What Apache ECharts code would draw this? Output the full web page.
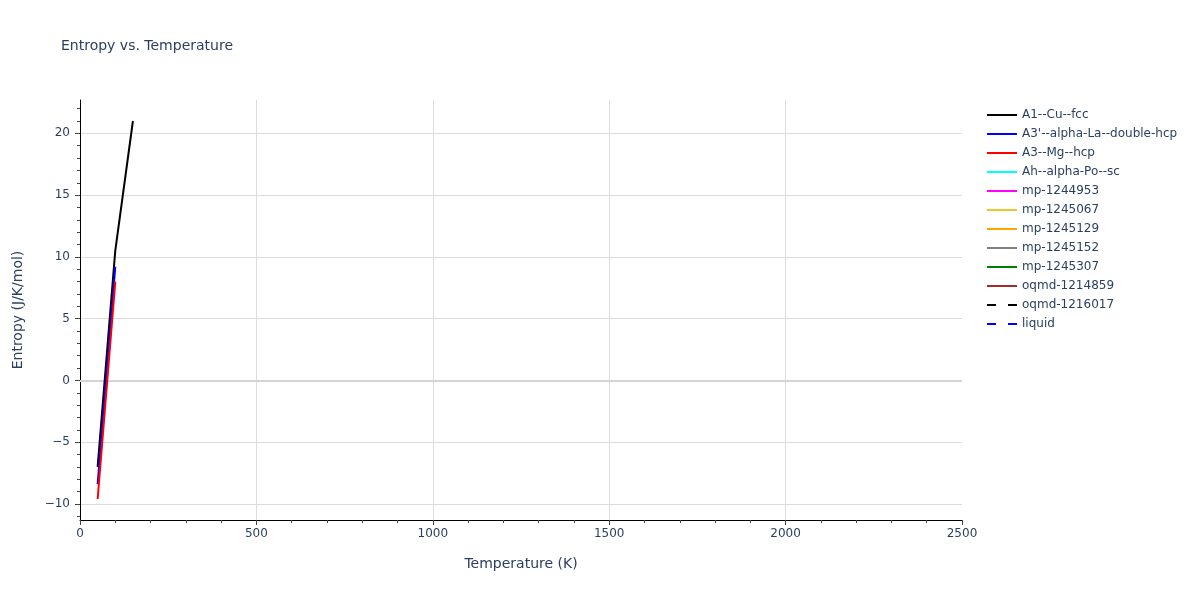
<!DOCTYPE html>
<html>
<head>
<meta charset="utf-8">
<script src="https://cdn.jsdelivr.net/npm/echarts@6/dist/echarts.min.js"></script>
<style>
html,body{margin:0;padding:0;background:#fff;}
#chart{width:1200px;height:600px;}
</style>
</head>
<body>
<div id="chart"></div>
<script>
// ---- data ----
const seriesNames = ["A1--Cu--fcc","A3'--alpha-La--double-hcp","A3--Mg--hcp","Ah--alpha-Po--sc",
  "mp-1244953","mp-1245067","mp-1245129","mp-1245152","mp-1245307","oqmd-1214859","oqmd-1216017","liquid"];
const seriesColors = ["#000000","#0000ff","#ff0000","#00ffff","#ff00ff","#f2c12e","#ffa500","#808080","#008000","#a52a2a","#000000","#0000ff"];
const seriesDashed = [false,false,false,false,false,false,false,false,false,false,true,true];
const tempA1 = [50, 100, 150];
const entropyA1 = [-7.0, 10.5, 21.0];
const tempA3p = [50, 100];
const entropyA3p = [-8.4, 9.2];
const tempA3 = [50, 100];
const entropyA3 = [-9.6, 8.0];
const xTicks = [0, 2500, 500];      // min, max, step
const yRange = [-11.3, 22.7];
const yMajor = [-10, 20, 5];
const yMinor = [-11, 22, 1];

const seriesData = {
  "A1--Cu--fcc": tempA1.map((t, i) => [t, entropyA1[i]]),
  "A3'--alpha-La--double-hcp": tempA3p.map((t, i) => [t, entropyA3p[i]]),
  "A3--Mg--hcp": tempA3.map((t, i) => [t, entropyA3[i]])
};

// ---- layout ----
const G = {left: 80, right: 238, top: 100, bottom: 80};
const plotH = 600 - G.top - G.bottom;
function py(v) { return G.top + (yRange[1] - v) / (yRange[1] - yRange[0]) * plotH; }

const font = '"DejaVu Sans", Verdana, sans-serif';
const txt = '#2a3f5f';
const fmt = v => (v < 0 ? '\u2212' + Math.abs(v) : String(v));
const dashPattern = [9, 12];

const chart = echarts.init(document.getElementById('chart'), null, {renderer: 'canvas'});

const series = seriesNames.map((name, i) => {
  const s = {
    name: name,
    type: 'line',
    xAxisIndex: 0, yAxisIndex: 0,
    data: seriesData[name] || [],
    symbol: 'none',
    showSymbol: false,
    smooth: false,
    animation: false,
    lineStyle: {color: seriesColors[i], width: 2, type: seriesDashed[i] ? dashPattern : 'solid'},
    itemStyle: {color: seriesColors[i]}
  };
  if (i === 0) {
    s.markLine = {
      silent: true, symbol: 'none', z: 1, animation: false,
      label: {show: false},
      lineStyle: {color: '#d4d4d4', width: 2, type: 'solid'},
      data: [{yAxis: 0}]
    };
  }
  return s;
});

const legendData = seriesNames.map((name, i) => ({
  name: name,
  itemStyle: {opacity: 0},
  lineStyle: {color: seriesColors[i], width: 2, type: seriesDashed[i] ? dashPattern : 'solid'}
}));

const option = {
  backgroundColor: '#ffffff',
  animation: false,
  title: {
    text: 'Entropy vs. Temperature',
    left: 61, top: 39, padding: 0,
    textStyle: {fontFamily: font, fontSize: 14, fontWeight: 'normal', color: txt}
  },
  legend: {
    orient: 'vertical',
    left: 986, top: 109, padding: 0,
    itemWidth: 30, itemHeight: 14, itemGap: 7,
    data: legendData,
    itemStyle: {opacity: 0},
    textStyle: {fontFamily: font, fontSize: 12, color: txt}
  },
  grid: [
    {left: G.left, right: G.right, top: G.top, bottom: G.bottom, containLabel: false},
    {left: G.left, right: G.right, top: py(yMinor[1]), bottom: 600 - py(yMinor[0])},
    {left: G.left, right: G.right, top: py(yMajor[1]), bottom: 600 - py(yMajor[0])}
  ],
  xAxis: [
    {
      type: 'value', gridIndex: 0,
      min: xTicks[0], max: xTicks[1], interval: xTicks[2],
      name: 'Temperature (K)', nameLocation: 'middle', nameGap: 37,
      nameTextStyle: {fontFamily: font, fontSize: 14, color: txt},
      axisLine: {show: true, onZero: false, lineStyle: {color: '#000', width: 1}},
      axisTick: {show: true, inside: false, length: 5, lineStyle: {color: '#444'}},
      minorTick: {show: true, splitNumber: 5, length: 3, lineStyle: {color: '#444'}},
      axisLabel: {fontFamily: font, fontSize: 12, color: txt, margin: 8, formatter: v => String(v)},
      splitLine: {show: true, showMinLine: false, showMaxLine: false, lineStyle: {color: '#dcdcdc', width: 1}}
    },
    {type: 'value', gridIndex: 1, show: false, min: 0, max: 1},
    {type: 'value', gridIndex: 2, show: false, min: 0, max: 1}
  ],
  yAxis: [
    {
      type: 'value', gridIndex: 0,
      min: yRange[0], max: yRange[1], splitNumber: 7, minInterval: yMajor[2], maxInterval: yMajor[2],
      name: 'Entropy (J/K/mol)', nameLocation: 'middle', nameGap: 55,
      nameTextStyle: {fontFamily: font, fontSize: 14, color: txt},
      axisLine: {show: true, onZero: false, lineStyle: {color: '#000', width: 1}},
      axisTick: {show: false},
      axisLabel: {fontFamily: font, fontSize: 12, color: txt, margin: 10, showMinLabel: false, showMaxLabel: false, formatter: fmt},
      splitLine: {show: true, showMinLine: false, showMaxLine: false, lineStyle: {color: '#dcdcdc', width: 1}}
    },
    {
      type: 'value', gridIndex: 1,
      min: yMinor[0], max: yMinor[1], interval: yMinor[2],
      axisLine: {show: false, onZero: false},
      axisTick: {show: true, inside: false, length: 3, lineStyle: {color: '#444'}},
      axisLabel: {show: false},
      splitLine: {show: false}
    },
    {
      type: 'value', gridIndex: 2,
      min: yMajor[0], max: yMajor[1], interval: yMajor[2],
      axisLine: {show: false, onZero: false},
      axisTick: {show: true, inside: false, length: 5, lineStyle: {color: '#444'}},
      axisLabel: {show: false},
      splitLine: {show: false}
    }
  ],
  series: series
};

chart.setOption(option);
</script>
</body>
</html>
